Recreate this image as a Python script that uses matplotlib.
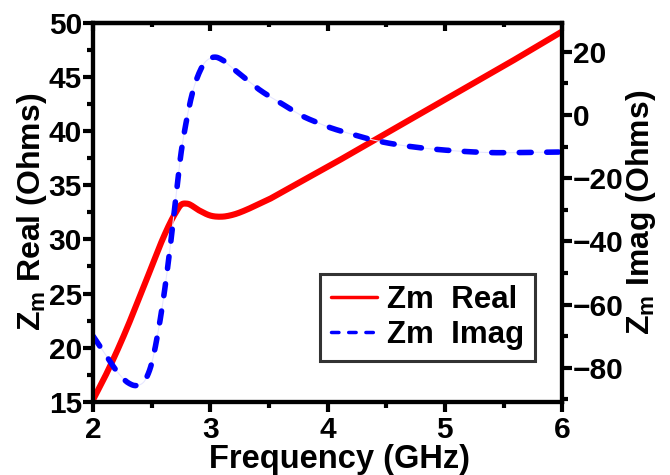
import matplotlib
matplotlib.use('Agg')
import matplotlib.pyplot as plt
from matplotlib.ticker import MultipleLocator
import numpy as np

# values
freq_real = [2.0, 2.1, 2.2, 2.3, 2.4, 2.5, 2.6, 2.7, 2.75, 2.8, 2.9, 3.0, 3.1, 3.2, 3.3,
             3.4, 3.5, 3.6, 3.7, 3.8, 3.9, 4.0, 4.5, 5.0, 5.5, 6.0]
z_real = [15.2, 17.3, 19.6, 22.1, 24.8, 27.5, 30.2, 32.4, 33.2, 33.3, 32.7, 32.2, 32.1, 32.3, 32.7,
          33.2, 33.7, 34.3, 34.9, 35.5, 36.1, 36.7, 39.8, 42.9, 46.0, 49.2]

freq_imag = [2.0, 2.1, 2.2, 2.3, 2.375, 2.45, 2.5, 2.55, 2.6, 2.65, 2.7, 2.75, 2.8, 2.85,
             2.9, 2.95, 3.0, 3.05, 3.1, 3.2, 3.3, 3.4, 3.5, 3.6, 3.7, 3.8, 3.9, 4.0,
             4.2, 4.4, 4.6, 4.8, 5.0, 5.2, 5.4, 5.6, 5.8, 6.0]
z_imag = [-70, -75.5, -81, -84.8, -85.6, -83.5, -78.5, -69.5, -58, -44, -28, -12, -1, 7.5,
          13, 16.5, 18, 18.3, 17.5, 14.5, 11.5, 8.5, 6, 3.8, 1.5, -0.6, -2.2, -3.7,
          -6, -8, -9.4, -10.4, -11.1, -11.6, -11.9, -11.9, -11.8, -11.7]

legend_labels = ['Zm  Real', 'Zm  Imag']

plt.rcParams['font.family'] = ['Liberation Sans', 'DejaVu Sans']
plt.rcParams['font.weight'] = 'bold'
plt.rcParams['mathtext.fontset'] = 'custom'
plt.rcParams['mathtext.rm'] = 'Liberation Sans:bold'
plt.rcParams['mathtext.it'] = 'Liberation Sans:bold'
plt.rcParams['mathtext.bf'] = 'Liberation Sans:bold'


def smooth(xs, ys, n=400):
    # cubic hermite through the read points
    xs = np.asarray(xs, float)
    ys = np.asarray(ys, float)
    t = np.linspace(xs[0], xs[-1], n)
    m = np.gradient(ys, xs)
    idx = np.clip(np.searchsorted(xs, t) - 1, 0, len(xs) - 2)
    x0, x1 = xs[idx], xs[idx + 1]
    h = x1 - x0
    s = (t - x0) / h
    h00 = 2 * s**3 - 3 * s**2 + 1
    h10 = s**3 - 2 * s**2 + s
    h01 = -2 * s**3 + 3 * s**2
    h11 = s**3 - s**2
    return t, h00 * ys[idx] + h10 * h * m[idx] + h01 * ys[idx + 1] + h11 * h * m[idx + 1]


fig = plt.figure(figsize=(6.7, 4.75), dpi=100)
ax = fig.add_axes([0.139, 0.154, 0.700, 0.798])
ax2 = ax.twinx()

xr, yr = smooth(freq_real, z_real)
xi, yi = smooth(freq_imag, z_imag)

l1, = ax.plot(xr, yr, color='red', lw=4.4, solid_capstyle='round', zorder=3)
ax2.plot(xi, yi, color='#e6e6ff', lw=0.8, zorder=1)
l2, = ax2.plot(xi, yi, color='blue', lw=4.0, dashes=(2.15, 2.8), dash_capstyle='round', zorder=2)

ax.set_xlim(2, 6)
ax.set_ylim(15, 50)
ax2.set_ylim(-90.8, 29.2)

ax.xaxis.set_major_locator(MultipleLocator(1))
ax.xaxis.set_minor_locator(MultipleLocator(0.5))
ax.yaxis.set_major_locator(MultipleLocator(5))
ax.yaxis.set_minor_locator(MultipleLocator(2.5))
ax2.yaxis.set_major_locator(MultipleLocator(20))
ax2.yaxis.set_minor_locator(MultipleLocator(10))

for a in (ax, ax2):
    for s in a.spines.values():
        s.set_linewidth(3)

fs_tick = 21.5
ax.tick_params(axis='x', which='both', direction='out', labelsize=fs_tick, width=3, pad=3)
ax.tick_params(axis='x', which='major', length=7)
ax.tick_params(axis='x', which='minor', length=4)
ax.tick_params(axis='y', which='both', direction='out', labelsize=fs_tick, width=3, pad=1)
ax.tick_params(axis='y', which='major', length=7)
ax.tick_params(axis='y', which='minor', length=4)
ax2.tick_params(axis='y', which='both', direction='out', labelsize=fs_tick, width=3, pad=1)
ax2.tick_params(axis='y', which='major', length=7)
ax2.tick_params(axis='y', which='minor', length=4)

# inward ticks on the top spine
top = ax.secondary_xaxis('top')
top.xaxis.set_major_locator(MultipleLocator(1))
top.xaxis.set_minor_locator(MultipleLocator(0.5))
top.tick_params(which='both', direction='in', width=3, labeltop=False)
top.tick_params(which='major', length=6)
top.tick_params(which='minor', length=3)
top.spines['top'].set_linewidth(3)

ax.set_xlabel('Frequency (GHz)', fontsize=23.5, fontweight='bold')
ax.xaxis.set_label_coords(0.525, -0.11, transform=ax.transAxes)
ax.xaxis.label.set_verticalalignment('top')
ax.set_ylabel('$Z_m$ Real (Ohms)', fontsize=23, fontweight='bold', labelpad=0)
ax2.set_ylabel('$Z_m$ Imag (Ohms)', fontsize=23, fontweight='bold', labelpad=0)

leg = ax.legend([l1, l2], legend_labels, loc='lower right', bbox_to_anchor=(0.942, 0.108),
                fontsize=22.5, frameon=True, fancybox=False, handlelength=1.5,
                handletextpad=0.3, borderpad=0.35, labelspacing=0.15, borderaxespad=0)
leg.get_frame().set_edgecolor('black')
leg.get_frame().set_linewidth(2.2)
for h in leg.get_lines():
    h.set_linewidth(2.5)

fig.savefig('out.png', dpi=100)
